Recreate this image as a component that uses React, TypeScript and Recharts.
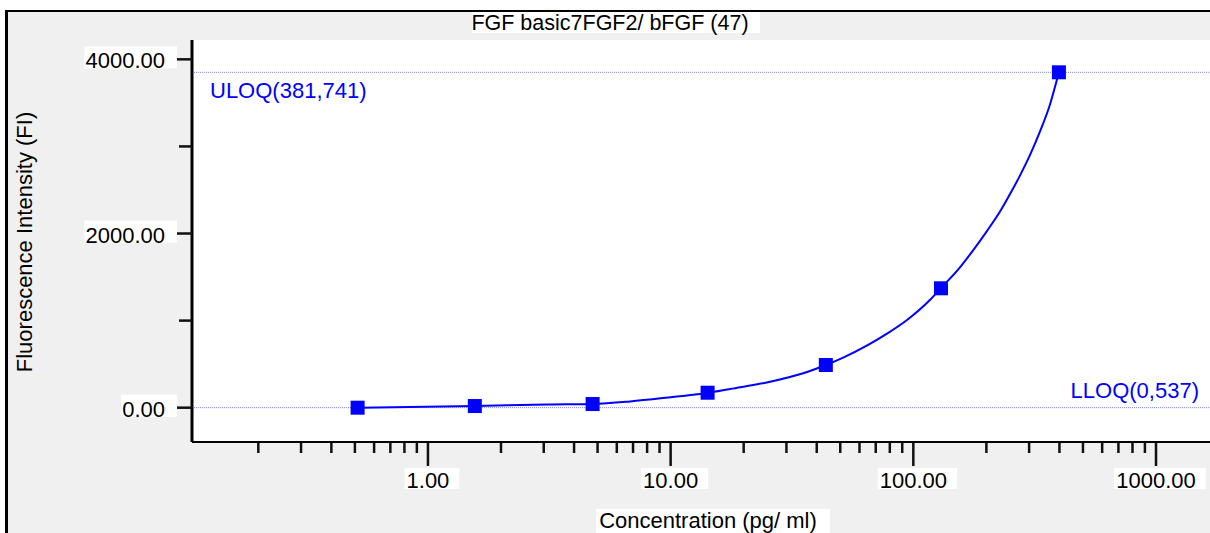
import {
  CartesianGrid,
  ComposedChart,
  Line,
  ReferenceLine,
  Scatter,
  XAxis,
  YAxis,
} from "recharts";

// standards: concentration (pg/ml) vs measured FI
const standardConc = [0.513, 1.56, 4.77, 14.2, 43.6, 130, 398];
const standardFI = [0, 19, 42, 172, 490, 1371, 3851];

// fitted curve, sampled off the plot
const curveConc = [
  0.514, 1.14, 1.56, 3.09, 4.77, 6.8, 10.2, 14.2, 17.6, 24.9, 36.5, 43.6, 51.4, 77.9, 94.2,
  117, 130, 156, 176, 201, 228, 250, 275, 303, 333, 366, 398,
];
const curveFI = [
  0, 14, 20, 38, 43, 71, 123, 169, 215, 290, 410, 490, 575, 850, 1007, 1236, 1374, 1615,
  1804, 2028, 2255, 2450, 2665, 2905, 3175, 3485, 3851,
];

const xMajorTicks = [1, 10, 100, 1000];
const xMinorTicks = [
  0.2, 0.3, 0.4, 0.5, 0.6, 0.7, 0.8, 0.9, 2, 3, 4, 5, 6, 7, 8, 9, 20, 30, 40, 50, 60, 70, 80,
  90, 200, 300, 400, 500, 600, 700, 800, 900, 2000,
];
const yMajorTicks = [0, 2000, 4000];
const yMinorTicks = [1000, 3000];

const uloqFI = 3851;
const lloqFI = 0;
const uloqLabel = "ULOQ(381,741)";
const lloqLabel = "LLOQ(0,537)";
const title = "FGF basic7FGF2/ bFGF (47)";
const xTitle = "Concentration (pg/ ml)";
const yTitle = "Fluorescence Intensity (FI)";

const standards = standardConc.map((c, i) => ({ conc: c, fi: standardFI[i] }));
const curve = curveConc.map((c, i) => ({ conc: c, fi: curveFI[i] }));
const xTicks = [...xMinorTicks, ...xMajorTicks].sort((a, b) => a - b);
const yTicks = [...yMinorTicks, ...yMajorTicks].sort((a, b) => a - b);

const FONT = "'Liberation Sans', Arial, sans-serif";
const BLUE = "#0000ff";

// rough Arial widths for the numeric labels
function numWidth(s: string, size: number) {
  let w = 0;
  for (const ch of s) w += ch === "." ? 0.278 : 0.556;
  return w * size;
}

function XTick(props: any) {
  const { x, y, payload } = props;
  const v = payload.value as number;
  if (!xMajorTicks.includes(v)) {
    return <line x1={x} x2={x} y1={y + 1} y2={y + 11} stroke="#111" strokeWidth={2.5} />;
  }
  const label = v.toFixed(2);
  const w = numWidth(label, 22);
  return (
    <g>
      <line x1={x} x2={x} y1={y + 1} y2={y + 24} stroke="#111" strokeWidth={2.5} />
      <rect x={x - w / 2 - 2} y={y + 26} width={w + 12} height={21} fill="#fff" />
      <text x={x} y={y + 46} textAnchor="middle" fontSize={22} fontFamily={FONT} fill="#000">
        {label}
      </text>
    </g>
  );
}

function YTick(props: any) {
  const { x, y, payload } = props;
  const v = payload.value as number;
  if (!yMajorTicks.includes(v)) {
    return <line x1={x - 13} x2={x} y1={y} y2={y} stroke="#111" strokeWidth={2.5} />;
  }
  const label = v.toFixed(2);
  const w = numWidth(label, 22);
  return (
    <g>
      <rect x={x - 27 - w - 1} y={y - 13} width={w + 13} height={22} fill="#fff" />
      <line x1={x - 15} x2={x} y1={y} y2={y} stroke="#111" strokeWidth={2.5} />
      <text x={x - 27} y={y + 9} textAnchor="end" fontSize={22} fontFamily={FONT} fill="#000">
        {label}
      </text>
    </g>
  );
}

function SquareDot(props: any) {
  const { cx, cy } = props;
  return <rect x={cx - 7} y={cy - 7} width={14} height={14} fill={BLUE} />;
}

export default function App() {
  return (
    <div
      style={{
        position: "absolute",
        left: 0,
        top: 0,
        width: 1210,
        height: 533,
        overflow: "hidden",
        background: "#fff",
        fontFamily: FONT,
      }}
    >
      <div
        style={{
          position: "absolute",
          left: 5,
          top: 10,
          width: 1300,
          height: 600,
          borderTop: "2px solid #000",
          borderLeft: "3px solid #000",
          background: "#f0f0f0",
        }}
      />
      <div style={{ position: "absolute", left: 0, top: 0 }}>
        <ComposedChart
          width={1240}
          height={533}
          margin={{ top: 40, right: 4, bottom: 31, left: 92 }}
        >
          <CartesianGrid horizontal={false} vertical={false} fill="#fff" fillOpacity={1} />
          <XAxis
            type="number"
            dataKey="conc"
            scale="log"
            domain={[0.1066, 2136]}
            allowDataOverflow
            ticks={xTicks}
            interval={0}
            height={60}
            tickSize={0}
            tickMargin={0}
            tickLine={false}
            axisLine={{ stroke: "#000", strokeWidth: 2 }}
            tick={XTick}
          />
          <YAxis
            type="number"
            domain={[-394, 4222]}
            allowDataOverflow
            ticks={yTicks}
            interval={0}
            width={100}
            tickSize={0}
            tickMargin={0}
            tickLine={false}
            axisLine={{ stroke: "#000", strokeWidth: 3 }}
            tick={YTick}
          />
          <ReferenceLine
            y={uloqFI}
            stroke="#8080ff"
            strokeWidth={1}
            strokeDasharray="1 1"
            label={{
              content: (p: any) => (
                <text
                  x={p.viewBox.x + 18}
                  y={p.viewBox.y + 26}
                  fontSize={22}
                  fontFamily={FONT}
                  fill={BLUE}
                >
                  {uloqLabel}
                </text>
              ),
            }}
          />
          <ReferenceLine
            y={lloqFI}
            stroke="#8080ff"
            strokeWidth={1}
            strokeDasharray="1 1"
            label={{
              content: (p: any) => (
                <text
                  x={1199}
                  y={p.viewBox.y - 10}
                  textAnchor="end"
                  fontSize={22}
                  fontFamily={FONT}
                  fill={BLUE}
                >
                  {lloqLabel}
                </text>
              ),
            }}
          />
          <Line
            data={curve}
            dataKey="fi"
            type="monotone"
            stroke={BLUE}
            strokeWidth={2}
            dot={false}
            activeDot={false}
            isAnimationActive={false}
          />
          <Scatter data={standards} dataKey="fi" fill={BLUE} shape={SquareDot} isAnimationActive={false} />
        </ComposedChart>
      </div>
      <svg
        width={1210}
        height={533}
        style={{ position: "absolute", left: 0, top: 0, pointerEvents: "none" }}
      >
        <rect x={472} y={12} width={288} height={21} fill="#fff" />
        <text x={610} y={30} textAnchor="middle" fontSize={21.5} fontFamily={FONT} fill="#000">
          {title}
        </text>
        <rect x={596} y={509} width={234} height={24} fill="#fff" />
        <text x={708} y={528} textAnchor="middle" fontSize={22} fontFamily={FONT} fill="#000">
          {xTitle}
        </text>
        <text
          x={32}
          y={242}
          transform="rotate(-90 32 242)"
          textAnchor="middle"
          fontSize={22}
          fontFamily={FONT}
          fill="#000"
        >
          {yTitle}
        </text>
      </svg>
    </div>
  );
}
